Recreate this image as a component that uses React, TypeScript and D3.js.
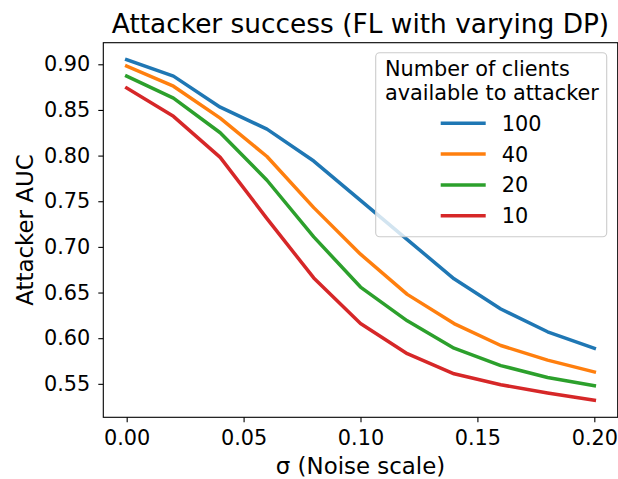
import React, { useRef, useEffect } from 'react';
import * as d3 from 'd3';

// noise scale sigma
const sigmas = [0, 0.02, 0.04, 0.06, 0.08, 0.1, 0.12, 0.14, 0.16, 0.18, 0.2];

// attacker AUC per number of clients available
const auc100 = [0.905, 0.887, 0.853, 0.829, 0.794, 0.751, 0.708, 0.665, 0.632, 0.607, 0.589];
const auc40 = [0.898, 0.876, 0.841, 0.799, 0.743, 0.692, 0.648, 0.616, 0.592, 0.576, 0.563];
const auc20 = [0.887, 0.863, 0.825, 0.773, 0.711, 0.656, 0.619, 0.589, 0.570, 0.557, 0.548];
const auc10 = [0.874, 0.843, 0.798, 0.731, 0.666, 0.616, 0.583, 0.561, 0.549, 0.540, 0.532];

const seriesNames = ['100', '40', '20', '10'];
const seriesValues = [auc100, auc40, auc20, auc10];
const colors = ['#1f77b4', '#ff7f0e', '#2ca02c', '#d62728'];

const xTicks = [0, 0.05, 0.1, 0.15, 0.2];
const yTicks = [0.55, 0.6, 0.65, 0.7, 0.75, 0.8, 0.85, 0.9];

const App = () => {
    const ref = useRef<SVGSVGElement>(null);
    const width = 618;
    const height = 479;

    useEffect(() => {
        const svg = d3.select(ref.current);
        svg.selectAll('*').remove();

        const left = 103.3;
        const right = 617.7;
        const top = 42.7;
        const bottom = 417.3;
        const font = 'DejaVu Sans, sans-serif';

        // matplotlib style 5% margins
        const xPad = (d3.max(sigmas)! - d3.min(sigmas)!) * 0.05;
        const allVals = seriesValues.flat();
        const yMin = d3.min(allVals)!;
        const yMax = d3.max(allVals)!;
        const yPad = (yMax - yMin) * 0.05;

        const x = d3.scaleLinear().domain([d3.min(sigmas)! - xPad, d3.max(sigmas)! + xPad]).range([left, right]);
        const y = d3.scaleLinear().domain([yMin - yPad, yMax + yPad]).range([bottom, top]);

        const line = d3
            .line<number>()
            .x((_, i) => x(sigmas[i]))
            .y((d) => y(d));

        // Draw lines
        seriesValues.forEach((vals, i) => {
            svg.append('path')
                .datum(vals)
                .attr('d', line)
                .attr('fill', 'none')
                .attr('stroke', colors[i])
                .attr('stroke-width', 3.5)
                .attr('stroke-linejoin', 'round')
                .attr('stroke-linecap', 'square');
        });

        // Axes
        const xAxis = svg.append('g')
            .attr('transform', `translate(0,${bottom})`)
            .call(d3.axisBottom(x).tickValues(xTicks).tickFormat(d3.format('.2f')).tickSize(5).tickPadding(8));
        const yAxis = svg.append('g')
            .attr('transform', `translate(${left},0)`)
            .call(d3.axisLeft(y).tickValues(yTicks).tickFormat(d3.format('.2f')).tickSize(5).tickPadding(8));
        [xAxis, yAxis].forEach((g) => {
            g.select('.domain').remove();
            g.selectAll('line').attr('stroke', '#000').attr('stroke-width', 1.1);
            g.selectAll('text').attr('font-family', font).attr('font-size', 20.8).attr('fill', '#000');
        });

        // Frame
        svg.append('rect')
            .attr('x', left)
            .attr('y', top)
            .attr('width', right - left)
            .attr('height', bottom - top)
            .attr('fill', 'none')
            .attr('stroke', '#000')
            .attr('stroke-width', 1.1);

        // Title and labels
        svg.append('text')
            .attr('x', (left + right) / 2)
            .attr('y', 33)
            .attr('text-anchor', 'middle')
            .attr('font-family', font)
            .attr('font-size', 26.4)
            .text('Attacker success (FL with varying DP)');

        svg.append('text')
            .attr('x', (left + right) / 2)
            .attr('y', 474)
            .attr('text-anchor', 'middle')
            .attr('font-family', font)
            .attr('font-size', 22.9)
            .text('σ (Noise scale)');

        svg.append('text')
            .attr('transform', `translate(33,${(top + bottom) / 2}) rotate(-90)`)
            .attr('text-anchor', 'middle')
            .attr('font-family', font)
            .attr('font-size', 22.9)
            .text('Attacker AUC');

        // Legend
        const lg = svg.append('g');
        lg.append('rect')
            .attr('x', 375.7)
            .attr('y', 52.7)
            .attr('width', 231)
            .attr('height', 184)
            .attr('rx', 4)
            .attr('fill', '#fff')
            .attr('fill-opacity', 0.8)
            .attr('stroke', '#cccccc')
            .attr('stroke-width', 1.1);
        ['Number of clients', 'available to attacker'].forEach((t, i) => {
            lg.append('text')
                .attr('x', 385)
                .attr('y', 76 + i * 24)
                .attr('font-family', font)
                .attr('font-size', 20.8)
                .text(t);
        });
        seriesNames.forEach((name, i) => {
            const ly = 123.3 + i * 30.8;
            lg.append('line')
                .attr('x1', 440.7)
                .attr('x2', 485.7)
                .attr('y1', ly)
                .attr('y2', ly)
                .attr('stroke', colors[i])
                .attr('stroke-width', 3.5);
            lg.append('text')
                .attr('x', 501.7)
                .attr('y', ly)
                .attr('dy', '0.36em')
                .attr('font-family', font)
                .attr('font-size', 20.8)
                .text(name);
        });
    }, []);

    return (
        <div>
            <style>{'body{margin:0}'}</style>
            <svg ref={ref} width={width} height={height} style={{ display: 'block' }} />
        </div>
    );
};

export default App;
